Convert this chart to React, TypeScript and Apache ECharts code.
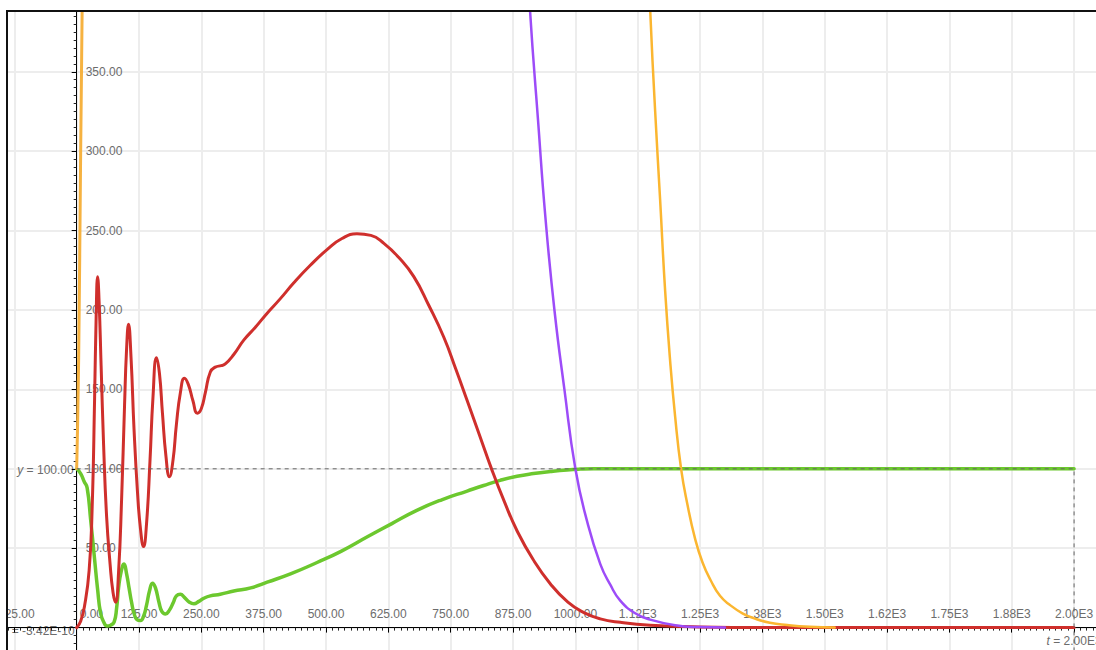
import React, { useEffect, useRef } from "react";
import * as echarts from "echarts";

// ---- data (t, value) ----
const redPoints: [number, number][] = [
  [0, 0], [8, 4], [16, 14], [25, 36], [31, 75], [36, 145], [39, 195], [42, 221], [45, 205], [49, 165], [54, 115],
  [60, 70], [67, 40], [73, 22], [78, 16], [84, 35], [90, 80], [96, 140], [100, 175], [104, 191],
  [109, 170], [115, 125], [122, 85], [128, 62], [134, 51], [140, 65], [147, 105], [153, 145],
  [160, 170], [166, 160], [172, 135], [179, 108], [186, 95], [193, 105], [200, 128], [208, 148],
  [216, 157], [224, 153], [233, 143], [242, 135], [250, 138], [258, 148], [268, 161], [278, 164],
  [290, 165], [298, 166], [315, 172], [335, 181], [358, 189], [382, 198], [408, 207], [435, 217],
  [468, 228], [502, 238], [532, 245], [562, 248], [590, 247], [616, 242], [646, 233], [676, 221],
  [706, 203], [736, 183], [760, 163], [783, 143], [808, 121], [833, 99], [858, 79], [883, 61],
  [915, 43], [950, 27.5], [985, 16], [1016, 9.6], [1050, 5.5], [1090, 3.3], [1150, 1.5],
  [1250, 0.4], [1400, 0], [2000, 0],
];

const greenPoints: [number, number][] = [
  [0, 100], [8, 97], [15, 92], [21, 88], [28, 68], [35, 46], [42, 24], [48, 9], [55, 3], [61, 1],
  [68, 1.5], [75, 3.4], [80, 12], [84, 25], [89, 35], [95, 40], [100, 34], [105, 25], [110, 16],
  [115, 9], [121, 5], [128, 4.4], [134, 7], [140, 14], [146, 23], [152, 28], [158, 25], [165, 16],
  [171, 10], [178, 8.6], [186, 11], [194, 16], [200, 20], [208, 21], [216, 19], [226, 16],
  [235, 15], [245, 16.5], [255, 18.5], [268, 20], [288, 21], [315, 23], [349, 25], [382, 28.6],
  [430, 34], [482, 41], [530, 48], [582, 57], [632, 65.5], [682, 73.8], [732, 80.5], [783, 86],
  [816, 89.5], [849, 92.7], [883, 95.3], [916, 97], [950, 98.3], [983, 99.3], [1010, 99.8],
  [1036, 100], [2000, 100],
];

const purplePoints: [number, number][] = [
  [895, 470], [909, 389], [925, 320], [940, 258], [958, 200], [978, 150], [1000, 100],
  [1023, 67.5], [1050, 40], [1070, 27], [1090, 17], [1120, 9], [1150, 5], [1200, 1.5],
  [1250, 0.3], [1300, 0],
];

const orangeRisePoints: [number, number][] = [
  [0, 100], [2, 130], [4, 170], [6, 230], [8, 300], [10, 360], [12, 420],
];

const orangeFallPoints: [number, number][] = [
  [1140, 470], [1150, 389], [1160, 325], [1170, 269], [1180, 212], [1190, 168], [1200, 133],
  [1212, 100], [1225, 77], [1240, 56], [1255, 41], [1271, 30], [1290, 20], [1311, 14],
  [1335, 9], [1357, 6], [1390, 3], [1425, 1.6], [1470, 0.5], [1520, 0],
];

const guidePoints: [number, number][] = [[0, 100], [2000, 100], [2000, -50]];

const xTickValues = [-125, 0, 125, 250, 375, 500, 625, 750, 875, 1000, 1125, 1250, 1375, 1500, 1625, 1750, 1875, 2000];
const xTickLabels = [
  "-125.00", "0.00", "125.00", "250.00", "375.00", "500.00", "625.00", "750.00", "875.00",
  "1000.00", "1.12E3", "1.25E3", "1.38E3", "1.50E3", "1.62E3", "1.75E3", "1.88E3", "2.00E3",
];
const yTickValues = [50, 100, 150, 200, 250, 300, 350];
const yTickLabels = ["50.00", "100.00", "150.00", "200.00", "250.00", "300.00", "350.00"];

const yMarkValue = 100;
const yMarkText = "100.00";
const tMarkValue = 2000;
const tMarkText = "2.00E3";
const tOriginText = "-3.42E-10";

// ---- layout constants ----
const PX_PER_T = 0.4987;
const PX_PER_V = 1.588;
const CHART_W = 1247;
const CHART_H = 715;
const X_MIN = -250;
const Y_MIN = -50;
const X_MAX = X_MIN + CHART_W / PX_PER_T;
const Y_MAX = Y_MIN + CHART_H / PX_PER_V;

const FONT = '"Liberation Sans", Arial, sans-serif';
const LABEL_COLOR = "#6c6c6c";

export default function App() {
  const ref = useRef<HTMLDivElement>(null);

  useEffect(() => {
    if (!ref.current) return;
    const chart = echarts.init(ref.current, null, { renderer: "svg" });

    const lineSeries = (data: [number, number][], color: string, width: number, smooth: number) => ({
      type: "line",
      data,
      showSymbol: false,
      symbol: "none",
      smooth,
      clip: true,
      silent: true,
      lineStyle: { color, width, cap: "round", join: "round" },
      emphasis: { disabled: true },
    });

    const axisCommon = {
      type: "value",
      axisLine: { show: true, onZero: true, lineStyle: { color: "#000", width: 1 } },
      axisTick: { show: true, inside: false, length: 5, lineStyle: { color: "#000" } },
      minorTick: { show: true, splitNumber: 10, length: 3, lineStyle: { color: "#222" } },
      splitLine: { show: true, lineStyle: { color: "#ededed", width: 2 } },
      axisLabel: { show: false },
    };

    chart.setOption({
      animation: false,
      grid: { left: 0, right: 0, top: 0, bottom: 0, containLabel: false },
      xAxis: { ...axisCommon, min: X_MIN, max: X_MAX, interval: 125 },
      yAxis: { ...axisCommon, min: Y_MIN, max: Y_MAX, interval: 50 },
      series: [
        lineSeries(greenPoints, "#6cc82e", 3.5, 0.5),
        lineSeries(redPoints, "#cf2f2c", 3, 0.5),
        lineSeries(purplePoints, "#9d4cf8", 2.5, 0.5),
        lineSeries(orangeRisePoints, "#f6b240", 3, 0),
        lineSeries(orangeFallPoints, "#fbb630", 2.5, 0.5),
        {
          type: "line",
          data: guidePoints,
          showSymbol: false,
          symbol: "none",
          silent: true,
          clip: false,
          lineStyle: { color: "#666", width: 1, type: [4, 4] },
          emphasis: { disabled: true },
        },
      ],
    });

    const px = (t: number, v: number) => chart.convertToPixel({ gridIndex: 0 }, [t, v]) as number[];
    const p0 = px(0, 0);

    const textStyle = (text: string, align: string) => ({
      text,
      fill: LABEL_COLOR,
      font: `12px ${FONT}`,
      align,
      textAlign: align,
      verticalAlign: "middle",
      textVerticalAlign: "middle",
      rich: { i: { fontStyle: "italic", fontSize: 12, fontFamily: FONT, fill: LABEL_COLOR } },
    });

    const graphics: any[] = [];
    xTickValues.forEach((t, i) => {
      const p = px(t, 0);
      const isOrigin = t === 0;
      graphics.push({
        type: "text",
        x: isOrigin ? p[0] + 3 : p[0],
        y: p[1] - 14,
        silent: true,
        style: textStyle(xTickLabels[i], isOrigin ? "left" : "center"),
      });
    });
    yTickValues.forEach((v, i) => {
      const p = px(0, v);
      graphics.push({
        type: "text",
        x: p[0] + 9,
        y: p[1],
        silent: true,
        style: textStyle(yTickLabels[i], "left"),
      });
    });
    const pY = px(0, yMarkValue);
    const pT = px(tMarkValue, 0);
    graphics.push(
      { type: "text", x: p0[0] - 3, y: pY[1] + 1, silent: true, style: textStyle(`{i|y} = ${yMarkText}`, "right") },
      { type: "text", x: pT[0], y: pT[1] + 13, silent: true, style: textStyle(`{i|t} = ${tMarkText}`, "center") },
      { type: "text", x: p0[0] - 2, y: p0[1] + 3, silent: true, style: textStyle(`{i|t} = ${tOriginText}`, "right") }
    );

    chart.setOption({ graphic: graphics });

    return () => chart.dispose();
  }, []);

  return (
    <div
      style={{
        position: "absolute",
        left: 0,
        top: 0,
        width: 1096,
        height: 650,
        overflow: "hidden",
        background: "#fff",
      }}
    >
      <div
        style={{
          position: "absolute",
          left: 6,
          top: 10,
          width: 1200,
          height: 700,
          borderLeft: "2px solid #111",
          borderTop: "2px solid #111",
          overflow: "hidden",
          background: "#fff",
        }}
      >
        <div
          ref={ref}
          style={{ position: "absolute", left: -56.5, top: -20, width: CHART_W, height: CHART_H }}
        />
      </div>
    </div>
  );
}
